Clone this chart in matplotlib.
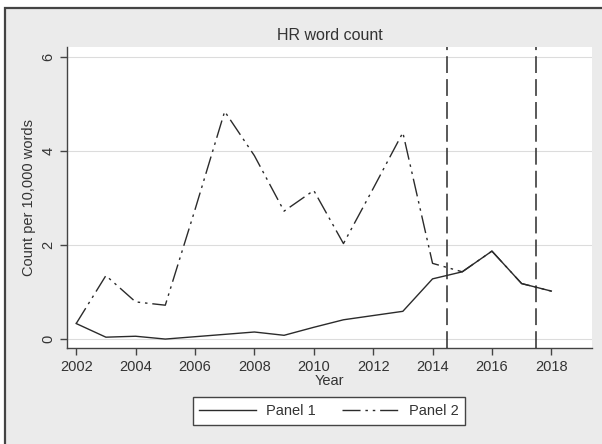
import matplotlib
matplotlib.use("Agg")
import matplotlib.pyplot as plt
from matplotlib.patches import Rectangle

plt.rcParams['font.family'] = ['Liberation Sans', 'DejaVu Sans']

years = list(range(2002, 2019))
panel1 = [0.33, 0.04, 0.06, 0.00, 0.05, 0.10, 0.15, 0.08, 0.25, 0.41,
          0.50, 0.59, 1.28, 1.43, 1.87, 1.18, 1.02]
panel2 = [0.33, 1.35, 0.79, 0.72, 2.75, 4.84, 3.90, 2.72, 3.16, 2.03,
          3.20, 4.39, 1.61, 1.43, 1.87, 1.18, 1.02]
cutoffs = [2014.5, 2017.5]
xticks = list(range(2002, 2019, 2))
yticks = [0, 2, 4, 6]

ink = "#2b2b2b"
fig = plt.figure(figsize=(6.02, 4.44), dpi=100)
fig.patch.set_facecolor("white")
# grey graph region with dark frame (runs off right/bottom)
fig.patches.append(Rectangle((5 / 602, -0.1), 1.2, 1 - 8 / 444 + 0.1,
                             transform=fig.transFigure, facecolor="#ebebeb",
                             edgecolor="#444444", linewidth=1.6, zorder=-1))

ax = fig.add_axes([67 / 602, 1 - 348 / 444, 525 / 602, 301 / 444])
ax.set_zorder(2)
ax.set_facecolor("white")

ax.plot(years, panel1, color=ink, lw=1.0, label="Panel 1", zorder=3)
ax.plot(years, panel2, color=ink, lw=1.0, label="Panel 2",
        dashes=(13, 3.5, 1.8, 3.5, 1.8, 3.5), zorder=3)
for c in cutoffs:
    ax.axvline(c, color=ink, lw=1.1, dashes=(11, 4), zorder=4)

ax.set_xlim(2001.69, 2019.37)
ax.set_ylim(-0.19, 6.21)
ax.set_xticks(xticks)
ax.set_yticks(yticks)
ax.grid(axis="y", color="#dcdcdc", lw=0.8)
ax.set_axisbelow(True)
for s in ["top", "right"]:
    ax.spines[s].set_visible(False)
for s in ["left", "bottom"]:
    ax.spines[s].set_color("#444444")
    ax.spines[s].set_linewidth(1.0)
ax.tick_params(colors="#444444", labelcolor="#333333", labelsize=10.5,
               length=5, width=1.0)
for lab in ax.get_yticklabels():
    lab.set_rotation(90)
    lab.set_va("center")

ax.set_title("HR word count", fontsize=11.5, color="#333333", pad=5)
ax.set_xlabel("Year", fontsize=10.5, color="#333333", labelpad=0)
ax.set_ylabel("Count per 10,000 words", fontsize=10.5, color="#333333",
              labelpad=4)

leg = fig.legend(loc="center", bbox_to_anchor=(329 / 602, 1 - 411 / 444),
                 ncol=2, fontsize=10.5, frameon=True, fancybox=False,
                 framealpha=1, handlelength=3.9, columnspacing=1.75,
                 borderpad=0.45, handletextpad=0.7)
leg.set_zorder(3)
leg.get_frame().set_edgecolor("#444444")
leg.get_frame().set_linewidth(1.0)
for t in leg.get_texts():
    t.set_color("#333333")

fig.savefig("out.png", dpi=100)
